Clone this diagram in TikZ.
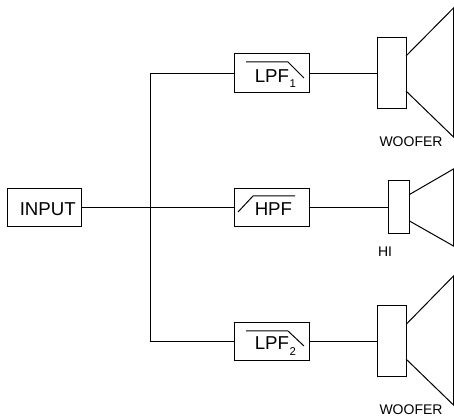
\documentclass[tikz,border=0pt]{standalone}
\usepackage{fontspec}
\setmainfont{Liberation Sans}
\newcommand{\lowsub}[1]{\kern0.5pt\raisebox{-3.8pt}{\fontsize{8.5}{10}\selectfont #1}}
\tikzset{
  blockbox/.style={draw,line width=0.75pt,minimum width=74.5*0.75pt,minimum height=38.5*0.75pt,inner sep=0pt,outer sep=0pt},
  wooferbox/.style={draw,line width=0.75pt,minimum width=29*0.75pt,minimum height=71*0.75pt,inner sep=0pt,outer sep=0pt},
  hibox/.style={draw,line width=0.75pt,minimum width=21.5*0.75pt,minimum height=53*0.75pt,inner sep=0pt,outer sep=0pt},
  wire/.style={line width=0.75pt},
  bigtext/.style={font=\fontsize{14}{16}\selectfont,inner sep=0pt},
  smalltext/.style={font=\fontsize{10.5}{12}\selectfont,inner sep=0pt}
}
\begin{document}
\begin{tikzpicture}[x=0.75pt,y=-0.75pt]
\useasboundingbox (0,0) rectangle (454,416);
\node[blockbox] (input) at (44.5,207.75) {};
\node[blockbox] (lpfa) at (271.75,73.25) {};
\node[blockbox] (hpf) at (271.75,207.75) {};
\node[blockbox] (lpfb) at (271.75,341.75) {};
\node[wooferbox] (wa) at (391.5,73.5) {};
\node[hibox] (hi) at (398.75,207.5) {};
\node[wooferbox] (wb) at (391.5,341.5) {};
\coordinate (junction) at (150.5,207.75);
\coordinate (ja) at (150.5,73.25);
\coordinate (jb) at (150.5,341.75);
\draw[wire] (input.east) -- (hpf.west);
\draw[wire] (lpfa.west) -- (ja) -- (jb) -- (lpfb.west);
\draw[wire] (lpfa.east) -- (lpfa.east -| wa.west);
\draw[wire] (hpf.east) -- (hpf.east -| hi.west);
\draw[wire] (lpfb.east) -- (lpfb.east -| wb.west);
% speaker cones
\draw[wire] (406,56) -- (453.5,8) -- (453.5,137) -- (406,91);
\draw[wire] (409.5,194.5) -- (453.5,169) -- (453.5,246) -- (409.5,221);
\draw[wire] (406,324.5) -- (453.5,276) -- (453.5,405) -- (406,359);
% filter curves
\draw[wire] (246,62) -- (288,62) -- (304,78);
\draw[wire] (238,212) -- (253,196) -- (295,196);
\draw[wire] (246,331) -- (288,331) -- (304,346);
% labels
\node[bigtext,anchor=base west] (tinput) at (19.5,216) {INPUT};
\node[bigtext,anchor=base west] (tlpfa) at (254.5,82.5) {LPF\lowsub{1}};
\node[bigtext,anchor=base west] (thpf) at (254.5,216) {HPF};
\node[bigtext,anchor=base west] (tlpfb) at (254.5,350) {LPF\lowsub{2}};
\node[smalltext] (twa) at (411,142) {WOOFER};
\node[smalltext] (thi) at (385,252) {HI};
\node[smalltext] (twb) at (411,409.5) {WOOFER};
\end{tikzpicture}
\end{document}
